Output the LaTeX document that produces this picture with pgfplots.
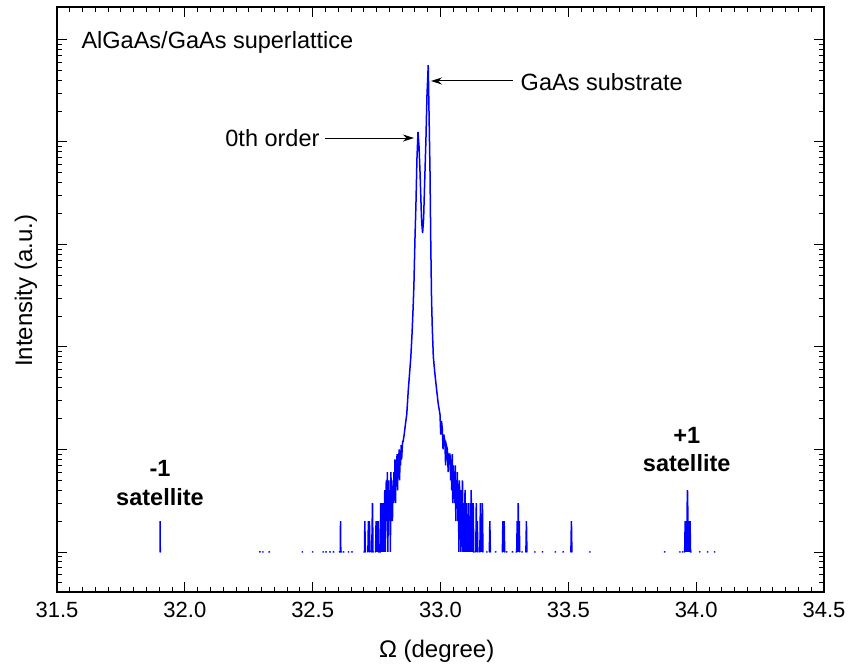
\documentclass[border=0pt]{standalone}
\usepackage{fontspec}
\setmainfont{Liberation Sans}
\usepackage{pgfplots}
\usepackage{pgfplotstable}
\pgfplotsset{compat=1.18}
\usetikzlibrary{arrows.meta}

% omega scan, counts; nan = no counts (gap on the log axis)
\pgfplotstableread{
x y
31.900 nan
31.903 1
31.903 2
31.904 1
31.906 nan
32.292 1
32.295 1
32.298 nan
32.304 1
32.306 1
32.309 nan
32.329 1
32.332 1
32.335 nan
32.459 1
32.461 1
32.464 nan
32.499 1
32.501 1
32.504 nan
32.540 1
32.542 1
32.545 nan
32.551 1
32.554 1
32.557 nan
32.566 1
32.569 1
32.572 nan
32.580 1
32.583 1
32.586 nan
32.604 1
32.608 1
32.609 2
32.610 1
32.613 1
32.616 nan
32.620 1
32.622 1
32.625 nan
32.640 1
32.642 1
32.645 nan
32.652 1
32.655 1
32.658 nan
32.700 1
32.703 1
32.704 2
32.706 1
32.709 nan
32.716 1
32.718 2
32.720 1
32.722 2
32.724 1
32.727 nan
32.731 1
32.734 3
32.736 1
32.738 1
32.741 nan
32.746 1
32.748 2
32.750 1
32.752 2
32.754 1
32.756 2
32.758 1
32.760 1
32.764 1
32.766 3
32.768 1
32.770 2
32.772 3
32.774 1
32.776 3
32.778 2
32.780 1
32.782 4
32.784 1
32.786 3
32.788 5
32.790 2
32.792 6
32.794 1
32.796 3
32.798 5
32.800 2
32.802 4
32.804 1
32.806 6
32.808 3
32.810 5
32.812 2
32.814 4
32.816 3
32.818 6
32.820 4
32.822 8
32.824 3
32.826 7
32.828 5
32.830 9
32.832 4
32.834 8
32.836 6
32.838 10
32.840 5
32.842 9
32.844 7
32.846 11
32.848 8
32.850 10
32.852 12
32.854 12
32.858 14
32.862 17
32.868 22
32.874 38
32.879 55
32.884 80
32.889 140
32.893 245
32.896 400
32.900 1100
32.904 2500
32.908 7000
32.912 12500
32.916 9000
32.920 5000
32.926 1700
32.930 1290
32.934 1800
32.938 4000
32.943 10500
32.947 28000
32.952 56000
32.955 20000
32.959 5000
32.962 1000
32.965 290
32.968 150
32.972 80
32.978 55
32.985 38
32.991 28
32.998 22
33.001 14
33.004 19
33.007 16
33.010 10
33.013 14
33.017 12
33.020 7
33.023 11
33.027 10
33.030 6
33.033 9
33.037 9
33.040 5
33.042 8
33.044 4
33.046 9
33.048 3
33.050 7
33.052 4
33.054 6
33.056 3
33.058 7
33.060 2
33.062 5
33.064 3
33.066 6
33.068 2
33.070 4
33.072 1
33.074 5
33.076 2
33.078 3
33.080 1
33.082 4
33.084 2
33.086 5
33.088 1
33.090 3
33.092 1
33.094 2
33.096 4
33.098 1
33.100 3
33.102 1
33.104 2
33.106 1
33.108 3
33.110 1
33.112 2
33.114 1
33.116 3
33.118 1
33.120 4
33.122 1
33.124 2
33.126 1
33.128 3
33.130 1
33.132 1
33.135 nan
33.138 1
33.140 3
33.142 1
33.144 2
33.146 1
33.149 nan
33.154 1
33.156 3
33.158 1
33.160 2
33.162 1
33.164 3
33.166 1
33.169 nan
33.180 1
33.182 1
33.185 nan
33.191 1
33.193 2
33.195 1
33.198 nan
33.215 1
33.217 1
33.220 nan
33.242 1
33.244 2
33.246 1
33.249 2
33.251 1
33.254 nan
33.258 1
33.260 1
33.263 nan
33.280 1
33.283 1
33.286 nan
33.296 1
33.298 1
33.300 2
33.302 1
33.304 3
33.306 1
33.308 2
33.310 1
33.313 nan
33.318 1
33.320 1
33.323 nan
33.334 1
33.336 2
33.338 1
33.341 nan
33.368 1
33.370 1
33.373 nan
33.398 1
33.400 1
33.403 nan
33.448 1
33.450 1
33.453 nan
33.479 1
33.481 1
33.484 nan
33.510 1
33.512 2
33.514 1
33.517 nan
33.583 1
33.585 1
33.588 nan
33.876 1
33.878 1
33.881 nan
33.935 1
33.937 1
33.940 nan
33.946 1
33.948 1
33.951 nan
33.955 1
33.957 2
33.959 1
33.961 2
33.963 1
33.965 3
33.966 4
33.968 2
33.970 1
33.972 2
33.974 1
33.976 2
33.978 1
33.980 1
33.983 nan
34.013 1
34.015 1
34.018 nan
34.044 1
34.046 1
34.049 nan
34.071 1
34.073 1
34.076 nan
}\scan

\begin{document}
\begin{tikzpicture}
\begin{axis}[
    scale only axis, width=767pt, height=585pt,
    xmin=31.5, xmax=34.5,
    ymode=log, ymin=0.407, ymax=2.07e5,
    unbounded coords=jump,
    xtick={31.5,32,32.5,33,33.5,34,34.5},
    minor x tick num=9,
    ytick={1,10,100,1000,10000,100000},
    minor ytick={0.5,0.6,0.7,0.8,0.9,2,3,4,5,6,7,8,9,20,30,40,50,60,70,80,90,
        200,300,400,500,600,700,800,900,2000,3000,4000,5000,6000,7000,8000,9000,
        20000,30000,40000,50000,60000,70000,80000,90000},
    yticklabels={},
    axis line style={line width=1.2pt},
    tick style={line width=0.9pt, black},
    major tick length=10pt, minor tick length=5pt,
    xticklabel style={font=\fontsize{22}{26}\selectfont, yshift=-7pt,
        /pgf/number format/.cd, fixed, fixed zerofill, precision=1, assume math mode=true},
    xlabel={Ω (degree)},
    ylabel={Intensity (a.u.)},
    label style={font=\fontsize{24}{28}\selectfont},
    xlabel style={at={(axis description cs:0.495,-0.1009)}, anchor=center},
    ylabel style={at={(axis description cs:-0.0404,0.515)}, anchor=center},
]
\addplot[blue, line width=1.5pt, line cap=round, no marks] table[x=x, y=y] {\scan};

\node[anchor=west, font=\fontsize{23.5}{28}\selectfont] at (rel axis cs:0.0274,0.940) {AlGaAs/GaAs superlattice};
\node[anchor=west, font=\fontsize{23.5}{28}\selectfont] at (rel axis cs:0.600,0.872) {GaAs substrate};
\draw[-{Stealth[length=11pt,width=7pt]}, line width=1pt] (rel axis cs:0.5945,0.8735) -- (rel axis cs:0.4876,0.8735);
\node[anchor=east, font=\fontsize{23.5}{28}\selectfont] at (rel axis cs:0.3468,0.776) {0th order};
\draw[-{Stealth[length=11pt,width=7pt]}, line width=1pt] (rel axis cs:0.3494,0.776) -- (rel axis cs:0.4654,0.776);
\node[font=\bfseries\fontsize{23.5}{28}\selectfont] at (rel axis cs:0.1343,0.212) {-1};
\node[font=\bfseries\fontsize{23.5}{28}\selectfont] at (rel axis cs:0.1343,0.162) {satellite};
\node[font=\bfseries\fontsize{23.5}{28}\selectfont] at (rel axis cs:0.821,0.268) {+1};
\node[font=\bfseries\fontsize{23.5}{28}\selectfont] at (rel axis cs:0.821,0.2205) {satellite};
\end{axis}
\pgfresetboundingbox
\path[use as bounding box] ([shift={(-57pt,-74pt)}]current axis.south west) rectangle ([shift={(29pt,7pt)}]current axis.north east);
\end{tikzpicture}
\end{document}
